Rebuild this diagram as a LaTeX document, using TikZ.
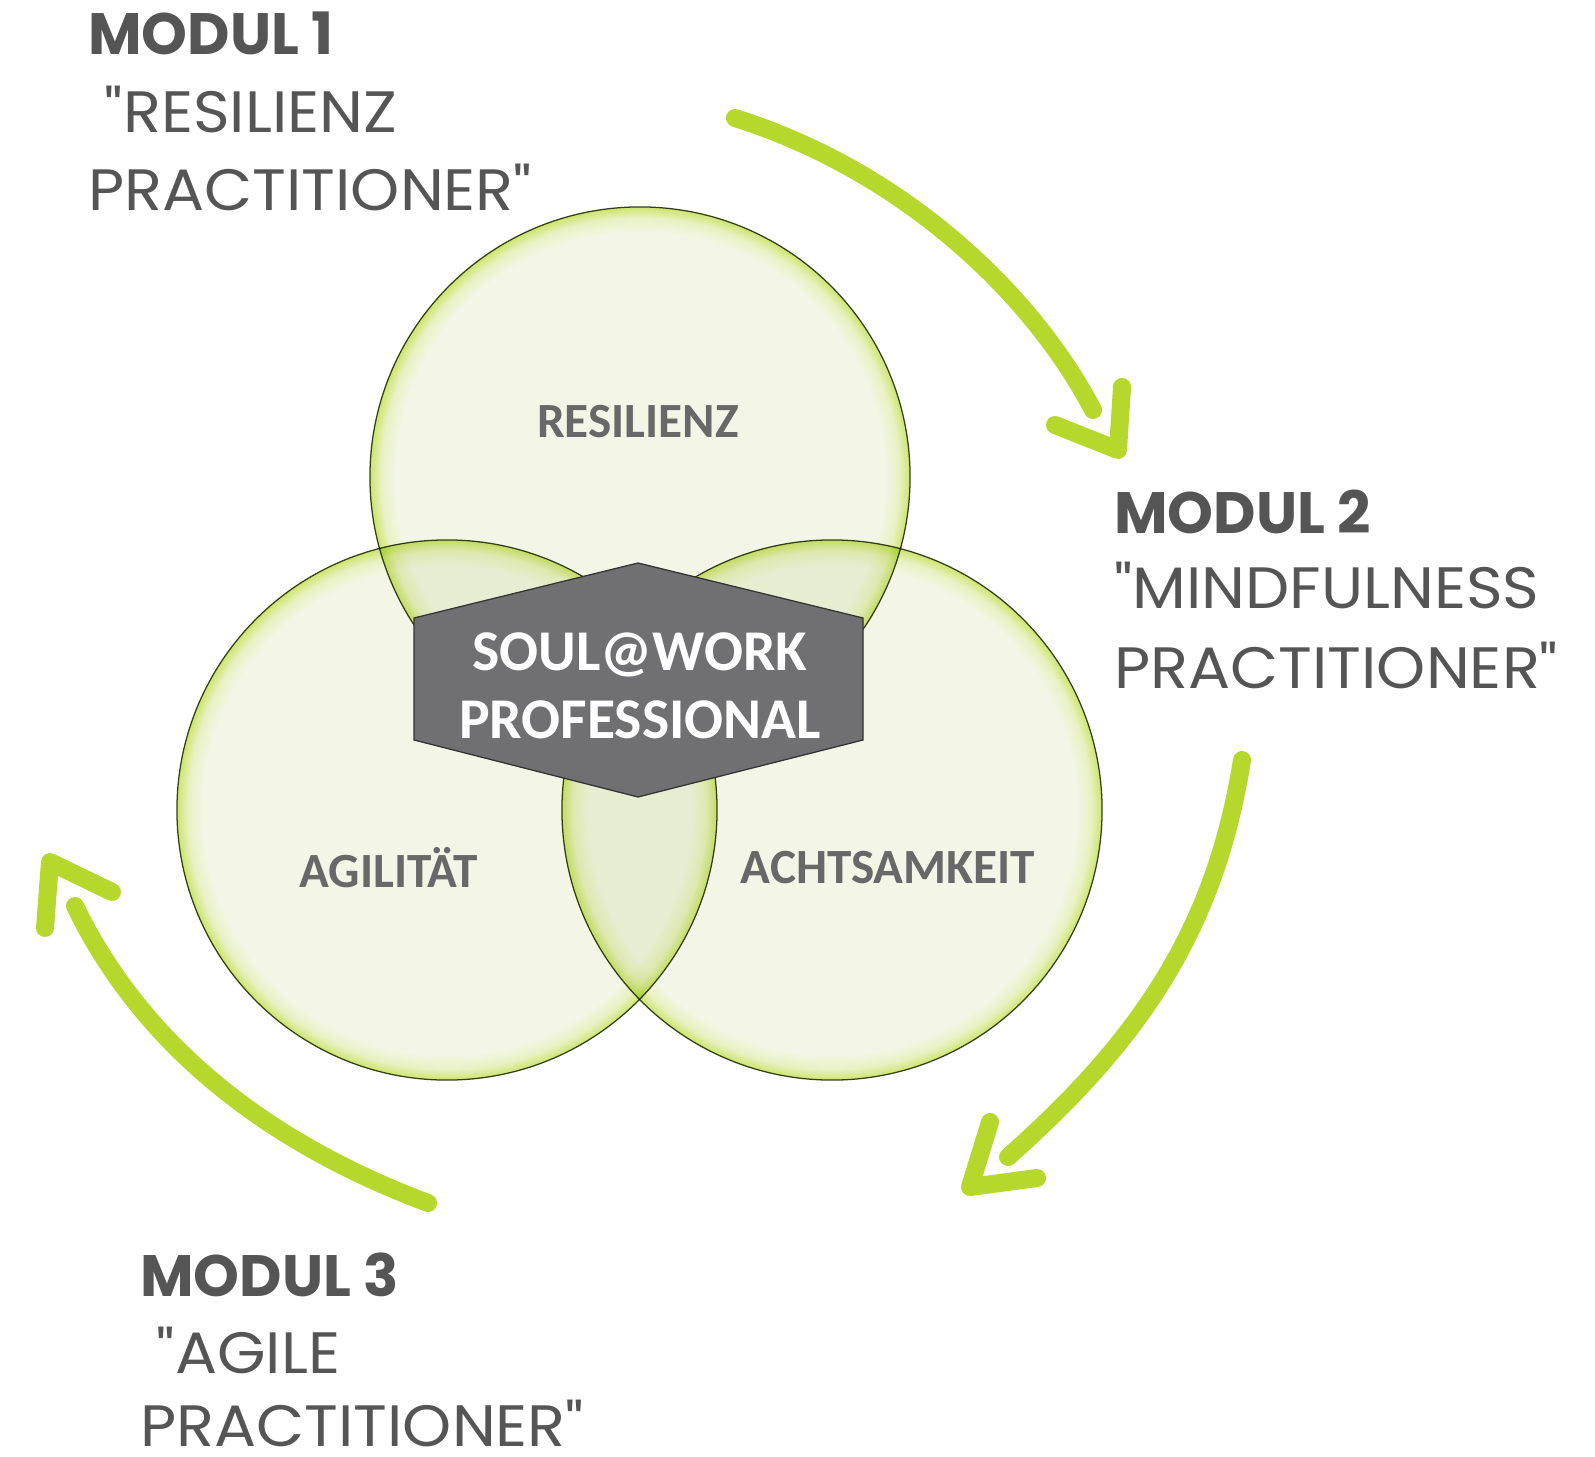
\documentclass[tikz,border=0pt]{standalone}
\usepackage{fontspec}
\setmainfont{Poppins}[Ligatures=TeXOff]
\newfontfamily\modulfont{Poppins}[FakeStretch=1.07, Ligatures=TeXOff]
\newfontfamily\vennfont{Carlito}
\usetikzlibrary{positioning}

\definecolor{textgrey}{RGB}{85,85,85}
\definecolor{labelgrey}{RGB}{104,104,104}
\definecolor{limegreen}{RGB}{182,215,44}
\definecolor{vennpale}{RGB}{243,246,231}
\definecolor{vennmid}{RGB}{232,241,194}
\definecolor{vennrim}{RGB}{204,229,108}
\definecolor{vennline}{RGB}{60,68,36}
\definecolor{hexgrey}{RGB}{112,112,114}

% TikZ fits the middle 50bp of a shading to the path, so the rim sits at 25bp
\pgfdeclareradialshading{vennrim}{\pgfpoint{0bp}{0bp}}{color(0bp)=(vennpale); color(22.6bp)=(vennpale); color(24bp)=(vennmid); color(25bp)=(vennrim); color(50bp)=(vennrim)}

\begin{document}
\begin{tikzpicture}[x=0.025cm, y=-0.025cm]

    \tikzstyle{venn}=[circle, minimum size=13.5cm, inner sep=0pt, shade, shading=vennrim, draw=vennline, line width=0.9pt]
    \tikzstyle{vennlabel}=[text=labelgrey, font=\vennfont\bfseries\fontsize{35}{40}\selectfont, inner sep=0pt]
    \tikzstyle{modul}=[anchor=base west, inner sep=0pt, text=textgrey, font=\modulfont\fontsize{41.5}{50}\selectfont]
    \tikzstyle{modultitle}=[modul, font=\bfseries\fontsize{41.5}{50}\selectfont]
    \tikzstyle{flow}=[draw=limegreen, line width=0.45cm, line cap=round, line join=round]

    \fill[white] (0,0) rectangle (1595,1457);
    \useasboundingbox (0,0) rectangle (1595,1457);

    % the three circles
    \begin{scope}[blend mode=multiply]
        \node[venn] (res) at (640,477) {};
        \node[venn] (agi) at (447,810) {};
        \node[venn] (ach) at (832,810) {};
    \end{scope}

    \node[vennlabel] (lres) at (638,422) {RESILIENZ};
    \node[vennlabel] (lagi) at (389,868) {AGILITÄT};
    \node[vennlabel] (lach) at (888,868) {ACHTSAMKEIT};

    % centre hexagon
    \filldraw[fill=hexgrey, draw=black!80, line width=0.9pt]
        (638,563) -- (863,618) -- (863,740) -- (638,797) -- (414,740) -- (414,618) -- cycle;
    \node[text=white, align=center, inner sep=0pt,
          font=\vennfont\bfseries\fontsize{41}{48}\selectfont] (core) at (640,686)
        {SOUL@WORK\\PROFESSIONAL};

    % module texts
    \node[modultitle] (m1)  at (88,55)     {MODUL 1};
    \node[modul]      (m1b) at (88,133)    {\ "RESILIENZ};
    \node[modul]      (m1c) at (88,211)    {PRACTITIONER"};

    \node[modultitle] (m2)  at (1114,533)  {MODUL 2};
    \node[modul]      (m2b) at (1114,608)  {"MINDFULNESS};
    \node[modul]      (m2c) at (1114,688)  {PRACTITIONER"};

    \node[modultitle] (m3)  at (140,1296) {MODUL 3};
    \node[modul]      (m3b) at (140,1373) {\ "AGILE};
    \node[modul]      (m3c) at (140,1446) {PRACTITIONER"};

    % arrows
    \coordinate (a1s) at (735,118);   \coordinate (a1e) at (1093,410);
    \coordinate (a2s) at (1242,760);  \coordinate (a2e) at (1008,1157);
    \coordinate (a3s) at (428,1203);  \coordinate (a3e) at (75,906);

    \draw[flow] (a1s) .. controls (900,170) and (1030,290) .. (a1e);
    \draw[flow] (1055,425) -- (1118,450) -- (1122,387);

    \draw[flow] (a2s) .. controls (1215,930) and (1140,1040) .. (a2e);
    \draw[flow] (990,1122) -- (970,1187) -- (1037,1178);

    \draw[flow] (a3s) .. controls (260,1140) and (140,1040) .. (a3e);
    \draw[flow] (45,928) -- (50,862) -- (112,892);

\end{tikzpicture}
\end{document}
